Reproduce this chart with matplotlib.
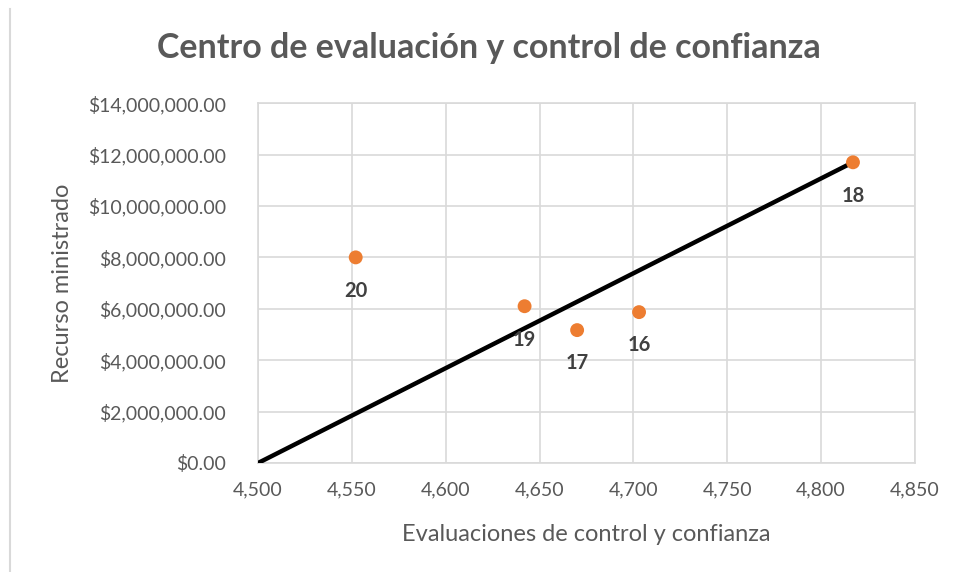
import matplotlib
matplotlib.use("Agg")
import matplotlib.pyplot as plt
from matplotlib.ticker import FuncFormatter, MultipleLocator
from matplotlib.lines import Line2D

plt.rcParams['font.family'] = ['Lato', 'DejaVu Sans']

# Data
labels = ["20", "19", "17", "16", "18"]
evaluaciones = [4552, 4642, 4670, 4703, 4817]
recurso = [8.0e6, 6.1e6, 5.17e6, 5.87e6, 11.7e6]
line_x = [4500, 4817]
line_y = [0, 11.7e6]

gray = "#595959"
fig = plt.figure(figsize=(9.56, 5.72), dpi=100)
ax = fig.add_axes([0.270, 0.1906, 0.687, 0.629])

ax.plot(line_x, line_y, color="black", lw=3.2, zorder=3, solid_capstyle="round")
ax.scatter(evaluaciones, recurso, s=100, color="#ED7D31", zorder=4, edgecolors="none")
for lx, ly, lab in zip(evaluaciones, recurso, labels):
    ax.annotate(lab, (lx, ly), xytext=(0, -24), textcoords="offset points",
                ha="center", va="center", fontsize=14.5, fontweight="bold", color="#404040")

ax.set_xlim(4500, 4850)
ax.set_ylim(0, 14e6)
ax.xaxis.set_major_locator(MultipleLocator(50))
ax.yaxis.set_major_locator(MultipleLocator(2e6))
ax.xaxis.set_major_formatter(FuncFormatter(lambda v, p: f"{v:,.0f}"))
ax.yaxis.set_major_formatter(FuncFormatter(lambda v, p: f"${v:,.2f}"))
ax.grid(True, color="#D9D9D9", lw=1.2)
ax.set_axisbelow(True)
for s in ax.spines.values():
    s.set_color("#D9D9D9")
    s.set_linewidth(1.2)
ax.tick_params(length=0, labelsize=14, colors=gray)
ax.tick_params(axis="x", pad=13)
ax.tick_params(axis="y", pad=23)

ax.set_xlabel("Evaluaciones de control y confianza", fontsize=17, color=gray)
ax.set_ylabel("Recurso ministrado", fontsize=17, color=gray)
ax.xaxis.set_label_coords(0.5, -0.2)
ax.yaxis.set_label_coords(-0.298, 0.5)
ax.xaxis.label.set_va("center")
ax.yaxis.label.set_va("center")
fig.text(0.511, 0.916, "Centro de evaluación y control de confianza", ha="center", va="center",
         fontsize=24.5, fontweight="bold", color=gray)

fig.add_artist(Line2D([0.0105, 0.0105], [0.0, 0.985], color="#D9D9D9", lw=1.5,
                      transform=fig.transFigure))

fig.savefig("out.png", dpi=100)
